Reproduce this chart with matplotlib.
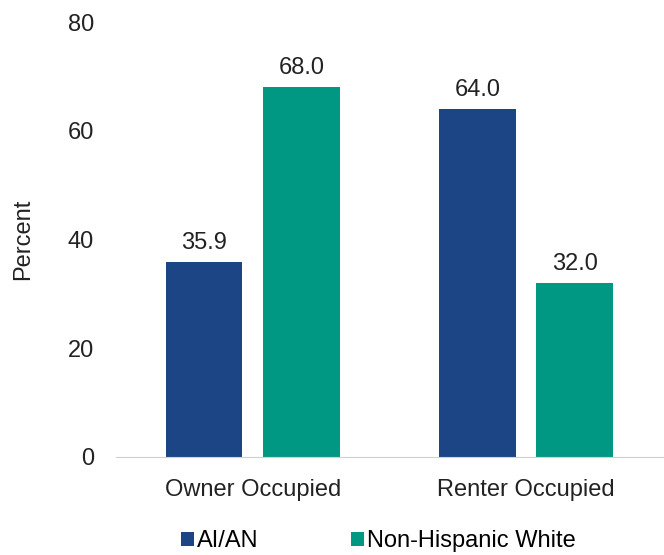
import matplotlib
matplotlib.use("Agg")
import matplotlib.pyplot as plt
import numpy as np

plt.rcParams['font.family'] = ['Liberation Sans', 'DejaVu Sans']

categories = ["Owner Occupied", "Renter Occupied"]
series_names = ["AI/AN", "Non-Hispanic White"]
aian = [35.9, 64.0]
nhw = [68.0, 32.0]
colors = ["#1B4585", "#009882"]

fig = plt.figure(figsize=(6.64, 5.55), dpi=100)
ax = fig.add_axes([0.175, 0.1766, 0.823, 0.7834])

x = np.arange(len(categories))
w = 0.28
off = 0.178
b1 = ax.bar(x - off, aian, w, color=colors[0], label=series_names[0])
b2 = ax.bar(x + off, nhw, w, color=colors[1], label=series_names[1])
for bars in (b1, b2):
    for r in bars:
        ax.text(r.get_x() + r.get_width() / 2, r.get_height() + 1.5, f"{r.get_height():.1f}",
                ha='center', va='bottom', fontsize=17, color='#222222')

ax.set_xlim(-0.5, 1.5)
ax.set_ylim(0, 80)
ax.set_yticks([0, 20, 40, 60, 80])
ax.set_xticks(x)
ax.set_xticklabels(categories)
ax.tick_params(axis='both', length=0, labelsize=17, colors='#222222')
ax.tick_params(axis='x', pad=16)
ax.tick_params(axis='y', pad=16)
for s in ['top', 'right', 'left']:
    ax.spines[s].set_visible(False)
ax.spines['bottom'].set_color('#d0d0d0')
ax.set_ylabel("Percent", fontsize=17, color='#222222')
ax.yaxis.set_label_coords(-0.15, 0.5)

leg = fig.legend(handles=[b1, b2], loc='center', bbox_to_anchor=(0.57, 0.025), ncol=2,
                 frameon=False, fontsize=17, handlelength=0.55, handleheight=0.55,
                 handletextpad=0.15, columnspacing=3.9)
fig.savefig("out.png", dpi=100)
